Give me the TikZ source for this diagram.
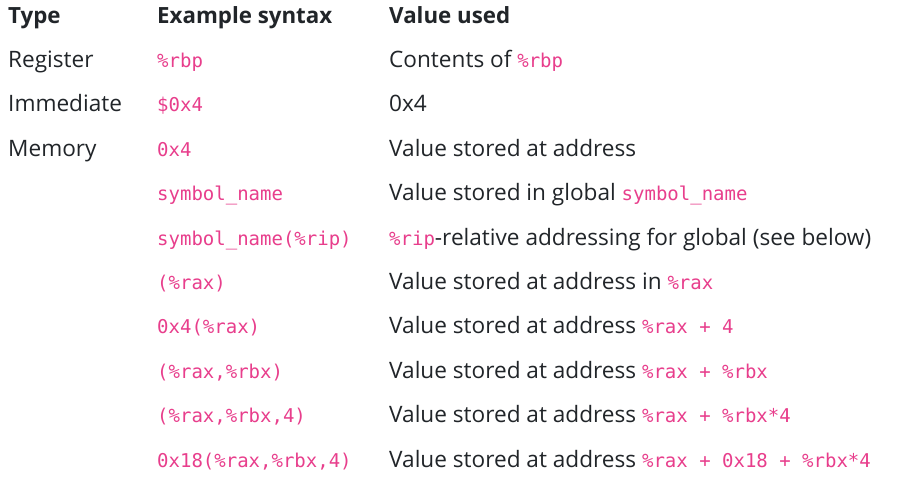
\documentclass[tikz,border=0pt]{standalone}
\usepackage{fontspec}
\setmainfont{Open Sans}
\setmonofont{DejaVu Sans Mono}
\definecolor{codepink}{HTML}{E83E8C}
\definecolor{bodytext}{HTML}{212529}
\newcommand{\asm}[1]{{\color{codepink}\fontsize{19}{22}\ttfamily #1}}

\begin{document}
\begin{tikzpicture}[x=1pt,y=1pt]
  \tikzset {
    cell/.style={
      anchor=base west,
      inner sep=0pt,
      text=bodytext,
      font=\fontsize{22.6}{26}\selectfont
    },
    head/.style={cell, font=\fontsize{22.3}{26}\selectfont\bfseries},
    code/.style={cell, text=codepink, font=\fontsize{19}{22}\selectfont\ttfamily}
  }
  \useasboundingbox[fill=white] (0,0) rectangle (899,-482);

  % header
  \node[head] (htype) at (8,-23) {Type};
  \node[head] (hsyn) at (157,-23) {Example syntax};
  \node[head] (hval) at (389,-23) {Value used};

  % register and immediate
  \node[cell] (treg) at (8,-67) {Register};
  \node[code] (sreg) at (157,-67) {\%rbp};
  \node[cell] (vreg) at (389,-67) {Contents of \asm{\%rbp}};

  \node[cell] (timm) at (8,-111) {Immediate};
  \node[code] (simm) at (157,-111) {\$0x4};
  \node[cell] (vimm) at (389,-111) {0x4};

  % memory
  \node[cell] (tmem) at (8,-156) {Memory};
  \node[code] (smem1) at (157,-156) {0x4};
  \node[cell] (vmem1) at (389,-156) {Value stored at address};

  \node[code] (smem2) at (157,-200) {symbol\_name};
  \node[cell] (vmem2) at (389,-200) {Value stored in global \asm{symbol\_name}};

  \node[code] (smem3) at (157,-245) {symbol\_name(\%rip)};
  \node[cell] (vmem3) at (389,-245) {\asm{\%rip}-relative addressing for global (see below)};

  \node[code] (smem4) at (157,-289) {(\%rax)};
  \node[cell] (vmem4) at (389,-289) {Value stored at address in \asm{\%rax}};

  \node[code] (smem5) at (157,-333) {0x4(\%rax)};
  \node[cell] (vmem5) at (389,-333) {Value stored at address \asm{\%rax + 4}};

  \node[code] (smem6) at (157,-378) {(\%rax,\%rbx)};
  \node[cell] (vmem6) at (389,-378) {Value stored at address \asm{\%rax + \%rbx}};

  \node[code] (smem7) at (157,-422) {(\%rax,\%rbx,4)};
  \node[cell] (vmem7) at (389,-422) {Value stored at address \asm{\%rax + \%rbx*4}};

  \node[code] (smem8) at (157,-467) {0x18(\%rax,\%rbx,4)};
  \node[cell] (vmem8) at (389,-467) {Value stored at address \asm{\%rax + 0x18 + \%rbx*4}};
\end{tikzpicture}
\end{document}
